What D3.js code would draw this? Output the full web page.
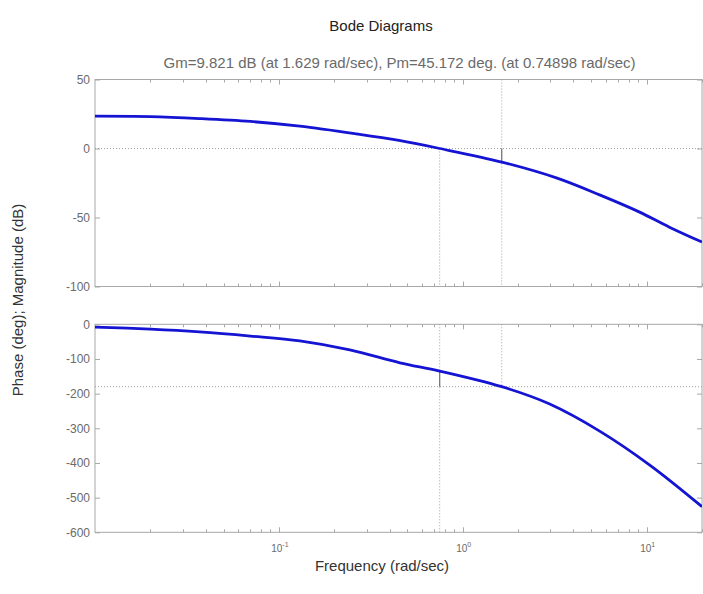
<!DOCTYPE html>
<html>
<head>
<meta charset="utf-8">
<script src="https://cdn.jsdelivr.net/npm/d3@7/dist/d3.min.js"></script>
<style>
  html, body { margin: 0; padding: 0; background: #fff; }
  svg { display: block; font-family: "Liberation Sans", Arial, sans-serif; }
</style>
</head>
<body>
<svg id="chart" width="703" height="594"></svg>
<script>
// Open-loop frequency response, magnitude branch
const magFreq = [0.01, 0.02, 0.037, 0.07, 0.13, 0.264, 0.45, 0.74898, 1.629, 3.23, 5.55, 9.16, 13.3, 20];
const magDb   = [23.4, 23.1, 21.7, 19.6, 16.2, 10.6, 5.8, 0, -9.821, -21.3, -33.6, -46.1, -57, -67.8];

// Phase branch
const phaseFreq = [0.01, 0.02, 0.037, 0.07, 0.13, 0.243, 0.455, 0.74898, 1.629, 2.97, 5.55, 10.4, 20];
const phaseDeg  = [-8, -14, -22, -34, -48, -74, -111, -134.828, -180, -230, -308, -406, -526];

// Stability margins
const gainMargin  = { freq: 1.629, db: 9.821 };
const phaseMargin = { freq: 0.74898, deg: 45.172 };

// Axis ticks
const magTicks   = [50, 0, -50, -100];
const phaseTicks = [0, -100, -200, -300, -400, -500, -600];
const decadeTicks = [0.1, 1, 10];
const decadeExp   = ["-1", "0", "1"];

const titleText = "Bode Diagrams";
const marginText = "Gm=9.821 dB (at 1.629 rad/sec), Pm=45.172 deg. (at 0.74898 rad/sec)";
const xLabel = "Frequency (rad/sec)";
const yLabel = "Phase (deg); Magnitude (dB)";

const svg = d3.select("#chart");
const left = 95, right = 702;
const magBox = { top: 79.5, bottom: 286.5 };
const phBox  = { top: 324.3, bottom: 532.3 };

const axisColor = "#a8a8a8";
const textColor = "#6a6a6a";
const lineColor = "#1414d2";

const x = d3.scaleLog().domain([0.01, 20]).range([left, right]);
const yMag = d3.scaleLinear().domain([-100, 50]).range([magBox.bottom, magBox.top]);
const yPh  = d3.scaleLinear().domain([-600, 0]).range([phBox.bottom, phBox.top]);

// minor log ticks (2..9 per decade) inside the x domain
const minorTicks = [];
[0.01, 0.1, 1, 10].forEach(d => {
  for (let k = 2; k <= 9; k++) {
    const v = d * k;
    if (v <= 20) minorTicks.push(v);
  }
});

svg.append("defs").selectAll("clipPath")
  .data([["clipMag", magBox], ["clipPh", phBox]])
  .join("clipPath").attr("id", d => d[0])
  .append("rect")
  .attr("x", left).attr("y", d => d[1].top)
  .attr("width", right - left).attr("height", d => d[1].bottom - d[1].top);

function drawPanel(box, y, ticks, showXLabels) {
  const g = svg.append("g");

  // frame
  g.append("rect")
    .attr("x", left).attr("y", box.top)
    .attr("width", right - left).attr("height", box.bottom - box.top)
    .attr("fill", "none").attr("stroke", axisColor).attr("stroke-width", 1);

  // x ticks pointing inward on bottom and top edges
  const xt = [...decadeTicks.map(v => ({ v, len: 5 })), ...minorTicks.map(v => ({ v, len: 3 }))];
  g.selectAll(".xtb").data(xt).join("line")
    .attr("x1", d => Math.round(x(d.v)) + 0.5).attr("x2", d => Math.round(x(d.v)) + 0.5)
    .attr("y1", box.bottom).attr("y2", d => box.bottom - d.len)
    .attr("stroke", axisColor);
  g.selectAll(".xtt").data(xt).join("line")
    .attr("x1", d => Math.round(x(d.v)) + 0.5).attr("x2", d => Math.round(x(d.v)) + 0.5)
    .attr("y1", box.top).attr("y2", d => box.top + d.len)
    .attr("stroke", axisColor);

  // y axis with inward ticks, plain hyphen minus in labels
  const ax = d3.axisLeft(y).tickValues(ticks).tickSize(-5).tickPadding(5)
    .tickFormat(d => String(d));
  const ag = g.append("g").attr("transform", `translate(${left},0)`).call(ax);
  ag.select(".domain").remove();
  ag.selectAll(".tick line").attr("stroke", axisColor);
  ag.selectAll(".tick text").attr("fill", textColor).attr("font-size", 12)
    .attr("font-family", "Liberation Sans, Arial, sans-serif");

  const axR = d3.axisRight(y).tickValues(ticks).tickSize(-5).tickFormat("");
  const agR = g.append("g").attr("transform", `translate(${right},0)`).call(axR);
  agR.select(".domain").remove();
  agR.selectAll(".tick line").attr("stroke", axisColor);

  if (showXLabels) {
    const lab = g.selectAll(".xl").data(decadeTicks).join("text")
      .attr("x", d => x(d) + 1).attr("y", box.bottom + 20)
      .attr("text-anchor", "middle")
      .attr("fill", textColor).attr("font-size", 10);
    lab.append("tspan").text("10");
    lab.append("tspan").attr("dy", -5).attr("font-size", 7)
      .text((d, i) => decadeExp[i]);
  }
  return g;
}

drawPanel(magBox, yMag, magTicks, false);
drawPanel(phBox, yPh, phaseTicks, true);

const dotted = { stroke: "#a0a0a0", "stroke-width": 1, "stroke-dasharray": "1,2" };
function dline(x1, y1, x2, y2, style) {
  const l = svg.append("line").attr("x1", x1).attr("y1", y1).attr("x2", x2).attr("y2", y2);
  Object.entries(style).forEach(([k, v]) => l.attr(k, v));
  return l;
}

const xGm = x(gainMargin.freq);
const xPm = x(phaseMargin.freq);

// magnitude panel reference lines
dline(left, yMag(0), right, yMag(0), dotted);
dline(xPm, yMag(0), xPm, magBox.bottom, dotted);
dline(xGm, magBox.top, xGm, magBox.bottom, dotted);
dline(xGm, yMag(0), xGm, yMag(-gainMargin.db), { stroke: "#707070", "stroke-width": 1.2 });

// phase panel reference lines
dline(left, yPh(-180), right, yPh(-180), dotted);
dline(xGm, phBox.top, xGm, yPh(-180), dotted);
dline(xPm, phBox.top, xPm, phBox.bottom, dotted);
dline(xPm, yPh(-180), xPm, yPh(-180 + phaseMargin.deg), { stroke: "#707070", "stroke-width": 1.2 });

// response curves
const smooth = d3.curveCatmullRom.alpha(0.5);
const magLine = d3.line().x(d => x(d[0])).y(d => yMag(d[1])).curve(smooth);
const phLine  = d3.line().x(d => x(d[0])).y(d => yPh(d[1])).curve(smooth);

svg.append("path").datum(d3.zip(magFreq, magDb))
  .attr("clip-path", "url(#clipMag)")
  .attr("d", magLine).attr("fill", "none")
  .attr("stroke", lineColor).attr("stroke-width", 2.8);

svg.append("path").datum(d3.zip(phaseFreq, phaseDeg))
  .attr("clip-path", "url(#clipPh)")
  .attr("d", phLine).attr("fill", "none")
  .attr("stroke", lineColor).attr("stroke-width", 2.8);

// texts
svg.append("text").attr("x", 381).attr("y", 31).attr("text-anchor", "middle")
  .attr("font-size", 15).attr("fill", "#222").text(titleText);
svg.append("text").attr("x", (left + right) / 2 + 1).attr("y", 68).attr("text-anchor", "middle")
  .attr("font-size", 15).attr("fill", textColor).text(marginText);
svg.append("text").attr("x", 382).attr("y", 571).attr("text-anchor", "middle")
  .attr("font-size", 15).attr("fill", "#333").text(xLabel);
svg.append("text").attr("transform", "translate(23,300) rotate(-90)")
  .attr("text-anchor", "middle").attr("font-size", 15).attr("fill", "#333").text(yLabel);
</script>
</body>
</html>
